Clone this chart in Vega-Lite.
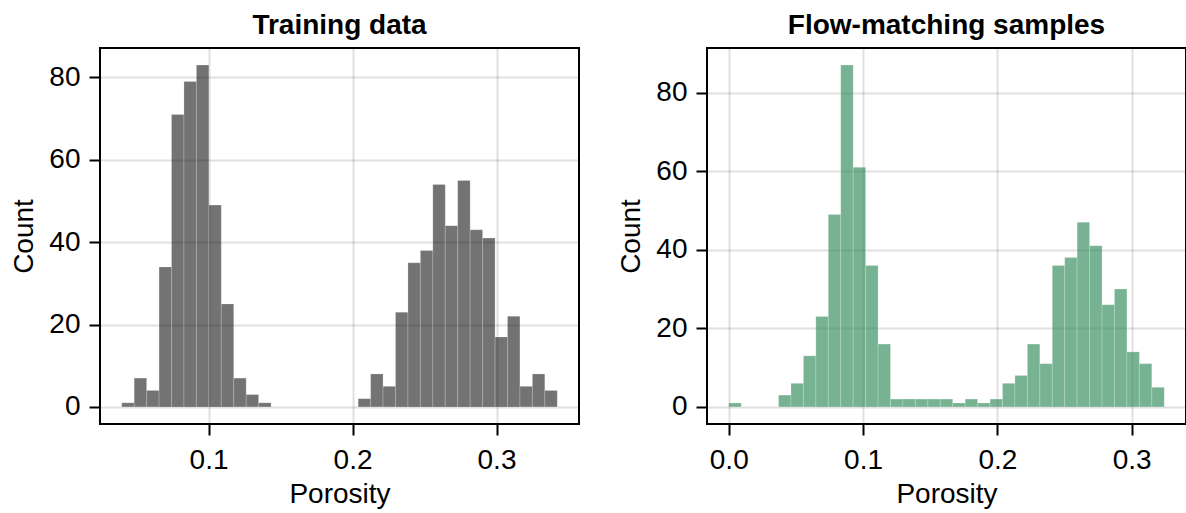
{
  "$schema": "https://vega.github.io/schema/vega-lite/v6.json",
  "background": "white",
  "padding": {"left": 9, "top": 11, "right": 0, "bottom": 0},
  "spacing": 36,
  "datasets": {
    "training": [
      {"start": 0.03970, "end": 0.04834, "count": 1},
      {"start": 0.04834, "end": 0.05699, "count": 7},
      {"start": 0.05699, "end": 0.06563, "count": 4},
      {"start": 0.06563, "end": 0.07427, "count": 34},
      {"start": 0.07427, "end": 0.08292, "count": 71},
      {"start": 0.08292, "end": 0.09156, "count": 79},
      {"start": 0.09156, "end": 0.10020, "count": 83},
      {"start": 0.10020, "end": 0.10884, "count": 49},
      {"start": 0.10884, "end": 0.11749, "count": 25},
      {"start": 0.11749, "end": 0.12613, "count": 7},
      {"start": 0.12613, "end": 0.13477, "count": 3},
      {"start": 0.13477, "end": 0.14342, "count": 1},
      {"start": 0.20392, "end": 0.21256, "count": 2},
      {"start": 0.21256, "end": 0.22120, "count": 8},
      {"start": 0.22120, "end": 0.22985, "count": 5},
      {"start": 0.22985, "end": 0.23849, "count": 23},
      {"start": 0.23849, "end": 0.24713, "count": 35},
      {"start": 0.24713, "end": 0.25578, "count": 38},
      {"start": 0.25578, "end": 0.26442, "count": 54},
      {"start": 0.26442, "end": 0.27306, "count": 44},
      {"start": 0.27306, "end": 0.28170, "count": 55},
      {"start": 0.28170, "end": 0.29035, "count": 43},
      {"start": 0.29035, "end": 0.29899, "count": 41},
      {"start": 0.29899, "end": 0.30763, "count": 17},
      {"start": 0.30763, "end": 0.31628, "count": 22},
      {"start": 0.31628, "end": 0.32492, "count": 5},
      {"start": 0.32492, "end": 0.33356, "count": 8},
      {"start": 0.33356, "end": 0.34221, "count": 4}
    ],
    "samples": [
      {"start": 0.00000, "end": 0.00926, "count": 1},
      {"start": 0.03705, "end": 0.04632, "count": 3},
      {"start": 0.04632, "end": 0.05558, "count": 6},
      {"start": 0.05558, "end": 0.06484, "count": 13},
      {"start": 0.06484, "end": 0.07410, "count": 23},
      {"start": 0.07410, "end": 0.08337, "count": 49},
      {"start": 0.08337, "end": 0.09263, "count": 87},
      {"start": 0.09263, "end": 0.10189, "count": 61},
      {"start": 0.10189, "end": 0.11116, "count": 36},
      {"start": 0.11116, "end": 0.12042, "count": 16},
      {"start": 0.12042, "end": 0.12968, "count": 2},
      {"start": 0.12968, "end": 0.13895, "count": 2},
      {"start": 0.13895, "end": 0.14821, "count": 2},
      {"start": 0.14821, "end": 0.15747, "count": 2},
      {"start": 0.15747, "end": 0.16673, "count": 2},
      {"start": 0.16673, "end": 0.17600, "count": 1},
      {"start": 0.17600, "end": 0.18526, "count": 2},
      {"start": 0.18526, "end": 0.19452, "count": 1},
      {"start": 0.19452, "end": 0.20379, "count": 2},
      {"start": 0.20379, "end": 0.21305, "count": 6},
      {"start": 0.21305, "end": 0.22231, "count": 8},
      {"start": 0.22231, "end": 0.23158, "count": 16},
      {"start": 0.23158, "end": 0.24084, "count": 11},
      {"start": 0.24084, "end": 0.25010, "count": 36},
      {"start": 0.25010, "end": 0.25936, "count": 38},
      {"start": 0.25936, "end": 0.26863, "count": 47},
      {"start": 0.26863, "end": 0.27789, "count": 41},
      {"start": 0.27789, "end": 0.28715, "count": 26},
      {"start": 0.28715, "end": 0.29642, "count": 30},
      {"start": 0.29642, "end": 0.30568, "count": 14},
      {"start": 0.30568, "end": 0.31494, "count": 11},
      {"start": 0.31494, "end": 0.32421, "count": 5}
    ]
  },
  "hconcat": [
    {
      "width": 479,
      "height": 376,
      "title": {"text": "Training data"},
      "data": {"name": "training"},
      "mark": {"type": "bar", "fill": "black", "fillOpacity": 0.55, "stroke": "white", "strokeWidth": 0.6, "strokeOpacity": 0.35},
      "encoding": {
        "x": {"field": "start", "type": "quantitative", "scale": {"domain": [0.0246, 0.3573], "nice": false, "zero": false},
              "axis": {"title": "Porosity", "values": [0.1, 0.2, 0.3], "format": ".1f"}},
        "x2": {"field": "end"},
        "y": {"field": "count", "type": "quantitative", "scale": {"domain": [-4.15, 87.15], "nice": false},
              "axis": {"title": "Count", "values": [0, 20, 40, 60, 80]}},
        "y2": {"datum": 0}
      }
    },
    {
      "width": 479,
      "height": 376,
      "title": {"text": "Flow-matching samples"},
      "data": {"name": "samples"},
      "mark": {"type": "bar", "fill": "#2e8b57", "fillOpacity": 0.65, "stroke": "white", "strokeWidth": 0.6, "strokeOpacity": 0.35},
      "encoding": {
        "x": {"field": "start", "type": "quantitative", "scale": {"domain": [-0.0162, 0.3404], "nice": false, "zero": false},
              "axis": {"title": "Porosity", "values": [0, 0.1, 0.2, 0.3], "format": ".1f"}},
        "x2": {"field": "end"},
        "y": {"field": "count", "type": "quantitative", "scale": {"domain": [-4.35, 91.35], "nice": false},
              "axis": {"title": "Count", "values": [0, 20, 40, 60, 80]}},
        "y2": {"datum": 0}
      }
    }
  ],
  "config": {
    "font": "Liberation Sans",
    "view": {"stroke": "black", "strokeWidth": 2},
    "title": {"fontSize": 28, "fontWeight": "bold", "color": "black", "offset": 8, "anchor": "middle", "font": "Liberation Sans"},
    "axis": {
      "domain": false,
      "grid": true,
      "gridColor": "black",
      "gridOpacity": 0.12,
      "gridWidth": 2,
      "ticks": true,
      "tickSize": 11,
      "tickWidth": 2,
      "tickColor": "black",
      "labelFont": "Liberation Sans",
      "labelFontSize": 28,
      "labelColor": "black",
      "titleFont": "Liberation Sans",
      "titleFontSize": 28,
      "titleFontWeight": "normal",
      "titleColor": "black",
      "titlePadding": 10
    },
    "axisX": {"labelPadding": 11, "titlePadding": 6},
    "axisY": {"labelPadding": 9}
  }
}
